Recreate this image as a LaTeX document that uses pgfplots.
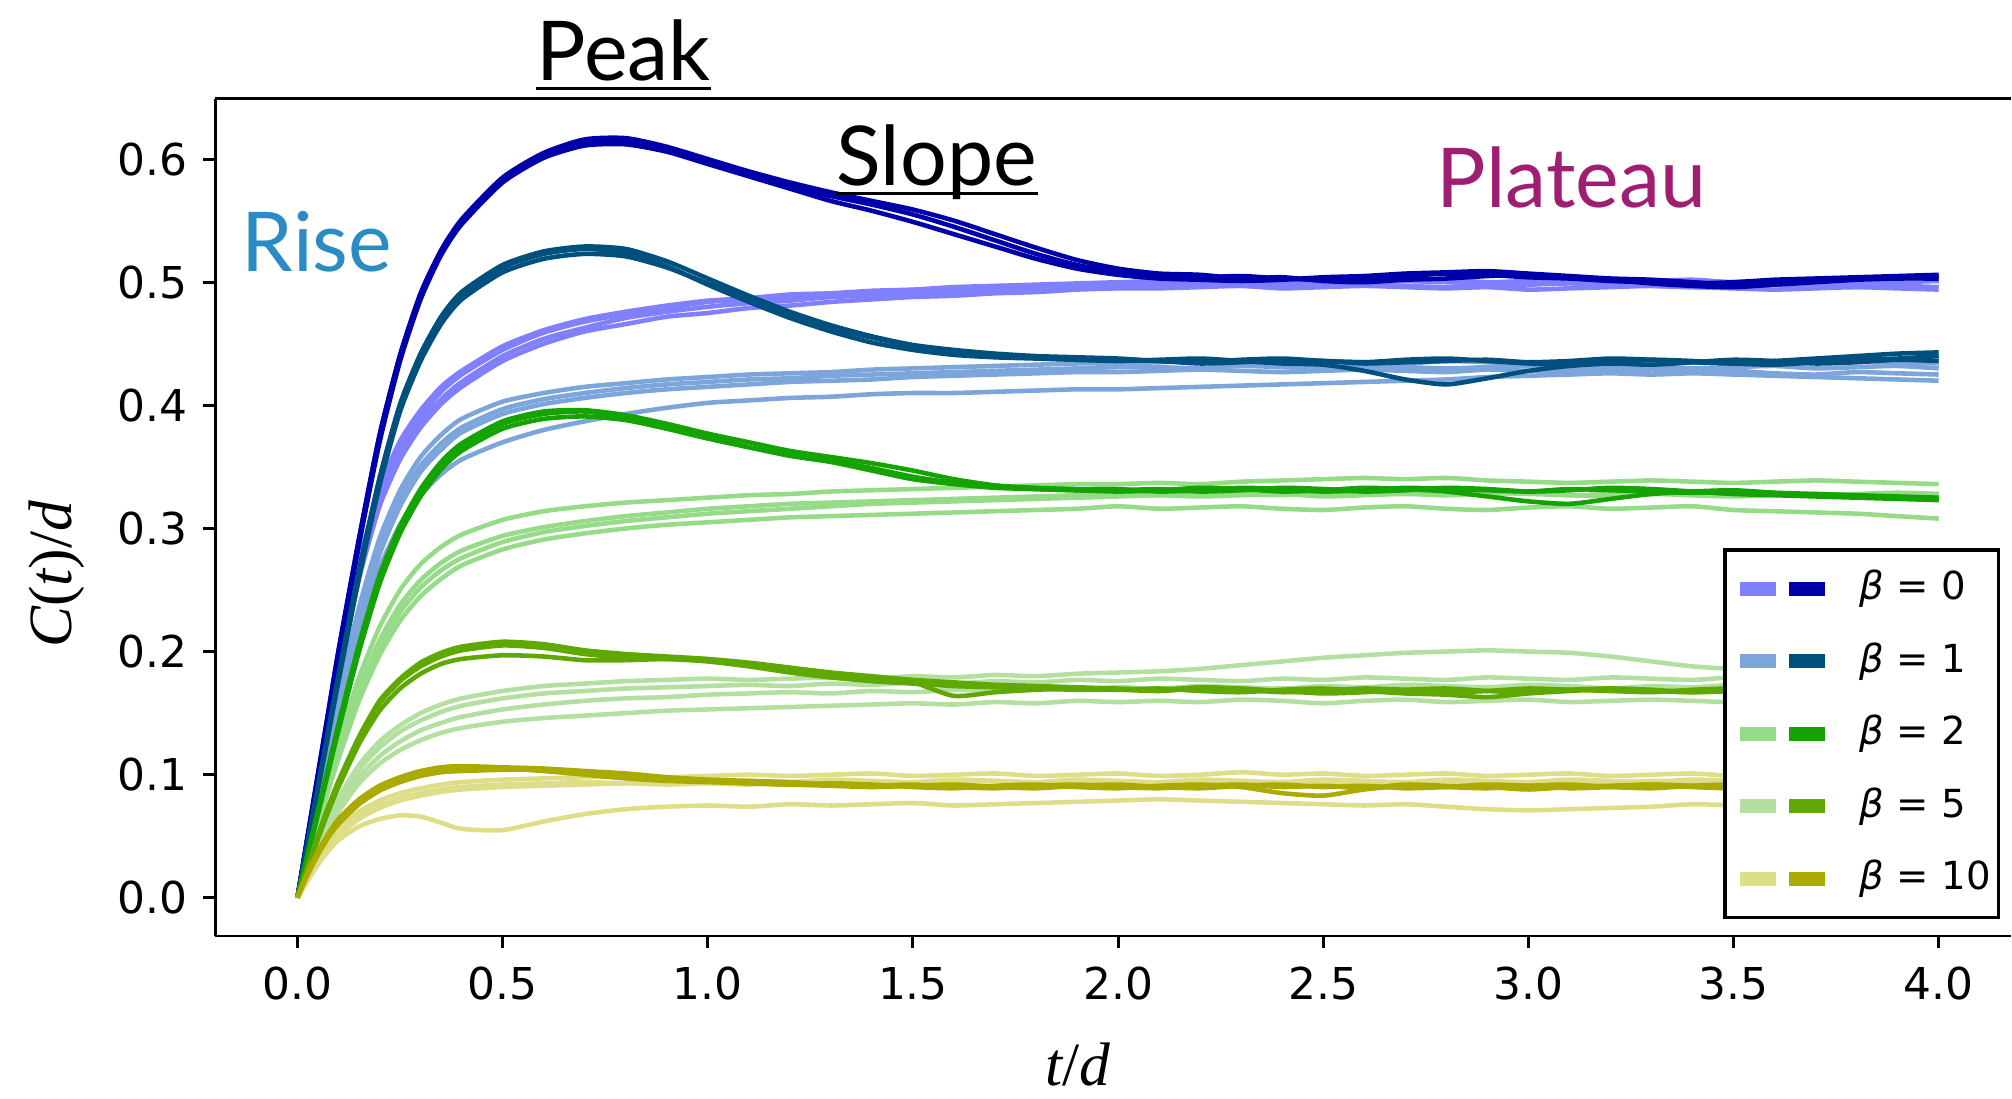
\documentclass[border=0pt]{standalone}
\usepackage{fontspec}
\setmainfont{DejaVu Sans}
\newfontfamily\annot{Lato}
\newfontfamily\tnr{Liberation Serif}
\usepackage{pgfplots}
\usepackage{pgfplotstable}
\pgfplotsset{compat=1.18}

\definecolor{Lzero}{HTML}{8080FF}
\definecolor{Dzero}{HTML}{0000AA}
\definecolor{Lone}{HTML}{7CA5DB}
\definecolor{Done}{HTML}{00507F}
\definecolor{Ltwo}{HTML}{95DB88}
\definecolor{Dtwo}{HTML}{14A300}
\definecolor{Lfive}{HTML}{B3E0A0}
\definecolor{Dfive}{HTML}{5FA800}
\definecolor{Lten}{HTML}{DEDE88}
\definecolor{Dten}{HTML}{AAAA00}
\definecolor{risec}{HTML}{2B8CC4}
\definecolor{platc}{HTML}{A01E72}

% columns: t, dark runs d1-d3, light runs l1-l4
\pgfplotstableread{
t d1 d2 d3 l1 l2 l3 l4
0 0 0 0 0 0 0 0
0.025 .050 .049 .051 .048 .050 .047 .049
0.05 .100 .098 .101 .095 .099 .094 .097
0.075 .150 .147 .151 .142 .147 .140 .145
0.1 .200 .196 .201 .186 .192 .183 .189
0.15 .291 .287 .292 .263 .272 .259 .268
0.2 .375 .370 .376 .322 .333 .318 .328
0.25 .440 .436 .441 .360 .371 .356 .366
0.3 .490 .486 .491 .386 .396 .382 .391
0.35 .525 .522 .526 .405 .415 .401 .411
0.4 .550 .547 .551 .419 .428 .415 .425
0.5 .584 .581 .585 .440 .448 .436 .445
0.6 .604 .601 .605 .454 .461 .450 .459
0.7 .614 .611 .616 .463 .470 .460 .468
0.8 .615 .612 .617 .471 .476 .466 .474
0.9 .608 .606 .610 .476 .481 .472 .479
1.0 .597 .596 .600 .480 .485 .475 .484
1.1 .587 .586 .590 .483 .487 .479 .486
1.2 .578 .576 .581 .485 .490 .481 .488
1.3 .570 .566 .573 .488 .491 .484 .490
1.4 .563 .558 .566 .489 .493 .486 .492
1.5 .555 .549 .559 .491 .494 .488 .493
1.6 .545 .539 .550 .492 .496 .489 .495
1.7 .534 .529 .539 .494 .497 .491 .496
1.8 .523 .519 .528 .495 .498 .492 .497
1.9 .514 .511 .518 .496 .499 .494 .498
2.0 .508 .506 .511 .497 .500 .495 .499
2.1 .505 .503 .507 .497 .501 .495 .500
2.2 .504 .502 .506 .498 .501 .496 .499
2.3 .505 .501 .503 .497 .500 .497 .500
2.4 .503 .502 .504 .498 .502 .495 .501
2.5 .502 .504 .501 .499 .501 .496 .500
2.6 .503 .505 .500 .498 .500 .497 .502
2.7 .505 .507 .502 .497 .501 .496 .501
2.8 .507 .508 .503 .496 .502 .495 .500
2.9 .506 .509 .505 .497 .500 .496 .499
3.0 .504 .507 .506 .498 .501 .494 .500
3.1 .503 .505 .504 .499 .502 .495 .501
3.2 .501 .503 .502 .498 .500 .496 .502
3.3 .500 .502 .499 .497 .501 .497 .500
3.4 .499 .500 .497 .496 .502 .496 .499
3.5 .500 .498 .496 .497 .500 .495 .500
3.6 .502 .499 .498 .498 .501 .494 .501
3.7 .503 .501 .500 .497 .502 .495 .500
3.8 .504 .503 .502 .496 .501 .496 .499
3.9 .505 .504 .503 .497 .500 .495 .500
4.0 .506 .505 .503 .496 .502 .494 .501
}\bzero

\pgfplotstableread{
t d1 d2 d3 l1 l2 l3 l4
0 0 0 0 0 0 0 0
0.025 .045 .044 .046 .041 .042 .040 .039
0.05 .090 .088 .091 .082 .084 .080 .078
0.075 .135 .132 .136 .122 .125 .119 .116
0.1 .180 .176 .181 .161 .165 .157 .153
0.15 .265 .260 .266 .230 .236 .225 .218
0.2 .340 .335 .341 .285 .292 .279 .268
0.25 .400 .395 .401 .324 .331 .318 .303
0.3 .440 .436 .442 .351 .358 .346 .327
0.35 .470 .466 .472 .369 .376 .364 .344
0.4 .490 .486 .492 .382 .389 .378 .356
0.5 .512 .508 .514 .397 .403 .393 .370
0.6 .523 .519 .525 .405 .410 .401 .380
0.7 .527 .523 .529 .410 .415 .406 .387
0.8 .524 .521 .527 .414 .418 .410 .393
0.9 .513 .512 .517 .417 .421 .413 .398
1.0 .498 .499 .503 .419 .423 .415 .402
1.1 .484 .486 .489 .421 .425 .417 .404
1.2 .471 .474 .476 .422 .426 .419 .406
1.3 .460 .463 .465 .424 .427 .420 .407
1.4 .451 .455 .456 .425 .429 .421 .409
1.5 .445 .448 .449 .426 .430 .423 .410
1.6 .441 .444 .445 .427 .431 .424 .410
1.7 .439 .441 .442 .428 .432 .425 .411
1.8 .438 .439 .440 .429 .433 .426 .412
1.9 .437 .437 .439 .430 .434 .427 .413
2.0 .437 .436 .438 .431 .434 .427 .413
2.1 .436 .437 .436 .431 .435 .428 .414
2.2 .434 .438 .435 .430 .436 .429 .415
2.3 .435 .436 .437 .432 .434 .428 .416
2.4 .437 .434 .438 .431 .435 .427 .417
2.5 .436 .433 .436 .430 .436 .428 .418
2.6 .435 .428 .434 .432 .435 .429 .419
2.7 .437 .421 .435 .431 .434 .428 .420
2.8 .438 .417 .436 .430 .436 .427 .421
2.9 .436 .422 .437 .431 .435 .429 .423
3.0 .434 .428 .435 .432 .434 .428 .424
3.1 .433 .432 .436 .430 .435 .427 .425
3.2 .435 .434 .438 .431 .436 .428 .426
3.3 .437 .433 .437 .432 .434 .429 .425
3.4 .436 .435 .435 .430 .435 .427 .426
3.5 .434 .437 .434 .431 .436 .428 .425
3.6 .433 .436 .436 .432 .434 .426 .424
3.7 .435 .434 .438 .430 .435 .425 .423
3.8 .437 .435 .440 .431 .436 .427 .422
3.9 .438 .437 .442 .432 .435 .426 .421
4.0 .440 .436 .443 .430 .434 .425 .420
}\bone

\pgfplotstableread{
t d1 d2 d3 l1 l2 l3 l4
0 0 0 0 0 0 0 0
0.025 .035 .034 .036 .032 .034 .030 .031
0.05 .070 .068 .071 .063 .067 .059 .061
0.075 .105 .102 .106 .093 .099 .087 .090
0.1 .140 .136 .141 .121 .128 .113 .117
0.15 .205 .200 .206 .170 .179 .160 .165
0.2 .260 .255 .262 .209 .220 .197 .203
0.25 .300 .296 .302 .238 .250 .225 .232
0.3 .330 .326 .332 .258 .271 .245 .252
0.35 .352 .348 .354 .272 .285 .259 .266
0.4 .367 .363 .369 .282 .295 .270 .276
0.5 .385 .381 .387 .294 .307 .283 .289
0.6 .393 .389 .395 .301 .314 .291 .297
0.7 .395 .391 .396 .306 .318 .296 .302
0.8 .390 .388 .392 .310 .321 .300 .306
0.9 .382 .381 .385 .313 .323 .303 .309
1.0 .374 .373 .377 .316 .325 .305 .312
1.1 .366 .366 .370 .318 .327 .307 .314
1.2 .359 .360 .363 .320 .328 .309 .316
1.3 .354 .355 .358 .321 .330 .310 .318
1.4 .347 .349 .353 .322 .331 .311 .320
1.5 .340 .342 .347 .323 .332 .312 .321
1.6 .336 .337 .340 .324 .333 .313 .322
1.7 .333 .334 .335 .325 .334 .314 .323
1.8 .332 .332 .333 .326 .335 .315 .324
1.9 .331 .331 .332 .327 .336 .316 .325
2.0 .331 .330 .332 .328 .336 .318 .326
2.1 .332 .331 .330 .327 .337 .316 .327
2.2 .330 .333 .331 .329 .336 .317 .326
2.3 .331 .332 .333 .328 .338 .318 .327
2.4 .333 .330 .332 .327 .339 .316 .328
2.5 .332 .331 .330 .329 .340 .315 .326
2.6 .330 .333 .331 .328 .341 .317 .327
2.7 .331 .332 .333 .329 .340 .318 .328
2.8 .333 .330 .332 .327 .341 .316 .327
2.9 .332 .326 .331 .328 .339 .315 .329
3.0 .330 .322 .330 .329 .338 .317 .328
3.1 .331 .320 .332 .327 .337 .318 .327
3.2 .333 .324 .331 .328 .338 .316 .326
3.3 .332 .328 .330 .329 .339 .317 .328
3.4 .330 .330 .329 .327 .338 .318 .327
3.5 .328 .331 .330 .328 .337 .315 .326
3.6 .327 .329 .328 .329 .338 .314 .327
3.7 .326 .328 .327 .327 .339 .313 .328
3.8 .325 .327 .326 .328 .338 .312 .327
3.9 .324 .326 .325 .329 .337 .310 .326
4.0 .323 .325 .324 .328 .336 .308 .325
}\btwo

\pgfplotstableread{
t d1 d2 d3 l1 l2 l3 l4
0 0 0 0 0 0 0 0
0.025 .025 .024 .026 .021 .020 .019 .022
0.05 .050 .048 .051 .042 .040 .038 .044
0.075 .073 .070 .074 .061 .058 .055 .064
0.1 .094 .090 .095 .078 .074 .070 .081
0.15 .130 .125 .131 .104 .098 .093 .108
0.2 .158 .152 .160 .122 .115 .109 .127
0.25 .176 .170 .178 .135 .127 .120 .140
0.3 .188 .182 .191 .144 .136 .128 .150
0.35 .196 .190 .199 .151 .142 .134 .157
0.4 .201 .194 .204 .156 .147 .138 .162
0.5 .205 .197 .208 .162 .153 .143 .168
0.6 .203 .196 .206 .166 .157 .146 .172
0.7 .198 .193 .201 .168 .160 .148 .174
0.8 .195 .193 .198 .170 .162 .150 .176
0.9 .194 .194 .196 .171 .163 .152 .177
1.0 .192 .193 .194 .172 .165 .153 .178
1.1 .188 .190 .191 .173 .166 .154 .177
1.2 .183 .186 .187 .172 .167 .155 .178
1.3 .179 .182 .183 .174 .166 .156 .179
1.4 .176 .178 .180 .173 .168 .157 .178
1.5 .174 .175 .177 .175 .167 .158 .180
1.6 .172 .164 .175 .174 .169 .157 .179
1.7 .171 .167 .173 .176 .168 .159 .181
1.8 .170 .169 .172 .175 .170 .158 .180
1.9 .169 .170 .171 .177 .169 .160 .182
2.0 .169 .169 .170 .176 .171 .159 .183
2.1 .168 .170 .169 .178 .170 .160 .184
2.2 .170 .168 .171 .177 .172 .159 .186
2.3 .169 .167 .170 .176 .171 .161 .189
2.4 .167 .169 .168 .178 .170 .160 .192
2.5 .168 .170 .166 .177 .172 .158 .195
2.6 .170 .168 .167 .179 .171 .160 .197
2.7 .169 .166 .169 .178 .173 .161 .199
2.8 .167 .165 .170 .177 .172 .159 .200
2.9 .168 .163 .168 .179 .171 .160 .201
3.0 .170 .166 .167 .178 .173 .161 .200
3.1 .169 .168 .169 .177 .172 .159 .199
3.2 .168 .170 .170 .179 .170 .160 .196
3.3 .167 .169 .168 .178 .172 .161 .192
3.4 .169 .167 .167 .177 .171 .160 .188
3.5 .170 .168 .169 .179 .173 .159 .186
3.6 .168 .170 .170 .178 .172 .161 .187
3.7 .167 .169 .168 .177 .170 .160 .186
3.8 .169 .168 .167 .179 .171 .159 .188
3.9 .170 .167 .169 .178 .173 .160 .189
4.0 .168 .169 .170 .177 .172 .161 .190
}\bfive

\pgfplotstableread{
t d1 d2 d3 l1 l2 l3 l4
0 0 0 0 0 0 0 0
0.025 .020 .019 .021 .016 .015 .017 .014
0.05 .037 .035 .038 .031 .029 .033 .027
0.075 .051 .049 .052 .043 .041 .046 .038
0.1 .062 .060 .064 .053 .051 .056 .047
0.15 .078 .076 .080 .066 .064 .070 .058
0.2 .089 .087 .091 .075 .073 .079 .064
0.25 .096 .094 .098 .081 .079 .085 .067
0.3 .101 .099 .103 .085 .083 .089 .066
0.35 .104 .102 .106 .088 .086 .092 .061
0.4 .105 .103 .107 .090 .088 .094 .056
0.5 .105 .104 .106 .092 .090 .096 .055
0.6 .103 .104 .105 .093 .091 .097 .062
0.7 .100 .102 .103 .094 .092 .098 .068
0.8 .097 .099 .101 .093 .093 .099 .072
0.9 .095 .097 .098 .095 .092 .098 .074
1.0 .094 .095 .096 .094 .093 .099 .075
1.1 .093 .093 .095 .095 .092 .100 .074
1.2 .092 .092 .094 .094 .094 .099 .076
1.3 .091 .093 .092 .096 .093 .100 .075
1.4 .090 .092 .091 .095 .092 .101 .076
1.5 .091 .090 .092 .094 .094 .099 .077
1.6 .092 .089 .090 .096 .093 .100 .075
1.7 .090 .091 .089 .095 .095 .101 .076
1.8 .089 .092 .091 .094 .093 .099 .077
1.9 .091 .090 .092 .096 .092 .100 .078
2.0 .092 .089 .090 .095 .094 .101 .079
2.1 .090 .091 .089 .094 .093 .099 .080
2.2 .089 .092 .091 .096 .095 .100 .079
2.3 .091 .090 .092 .095 .093 .102 .078
2.4 .092 .085 .090 .094 .094 .100 .077
2.5 .090 .083 .091 .096 .092 .101 .076
2.6 .091 .088 .089 .095 .094 .099 .075
2.7 .089 .091 .092 .094 .093 .100 .076
2.8 .090 .090 .091 .096 .095 .101 .074
2.9 .092 .089 .090 .095 .093 .099 .072
3.0 .091 .091 .088 .094 .092 .100 .071
3.1 .089 .092 .090 .096 .094 .101 .072
3.2 .090 .090 .091 .095 .093 .099 .073
3.3 .092 .089 .092 .094 .095 .100 .074
3.4 .091 .091 .090 .096 .094 .101 .076
3.5 .090 .092 .089 .095 .092 .099 .075
3.6 .089 .090 .091 .094 .093 .100 .073
3.7 .091 .089 .092 .096 .095 .101 .070
3.8 .092 .091 .090 .095 .094 .099 .067
3.9 .090 .092 .091 .094 .093 .100 .064
4.0 .091 .090 .092 .096 .092 .101 .061
}\bten

\newcommand{\twoswatch}[2]{\addlegendimage{legend image code/.code={
  \draw[line width=1.4mm,#1] (0mm,0mm) -- (3.6mm,0mm);
  \draw[line width=1.4mm,#2] (4.9mm,0mm) -- (8.5mm,0mm);}}}

\begin{document}
\begin{tikzpicture}
\begin{axis}[
  at={(0,0)}, anchor=south west,
  scale only axis, width=17.964cm, height=8.379cm,
  xmin=-0.2, xmax=4.175, ymin=-0.031, ymax=0.649,
  axis x line*=box, axis y line*=left,
  axis line style={line width=0.85pt, -},
  xtick pos=bottom, ytick pos=left,
  tick align=outside, major tick length=1.2mm,
  tick style={line width=0.85pt, black},
  xtick={0,0.5,...,4}, ytick={0,0.1,...,0.6},
  /pgf/number format/assume math mode=true,
  ticklabel style={font=\fontsize{12.5}{15}\selectfont,
    /pgf/number format/fixed, /pgf/number format/fixed zerofill,
    /pgf/number format/precision=1},
  xticklabel style={yshift=-0.7mm},
  yticklabel style={xshift=-0.4mm},
  xlabel={{\tnr\itshape t\upshape/\itshape d}},
  ylabel={{\tnr\itshape C\upshape(\itshape t\upshape)/\itshape d}},
  every axis x label/.style={at={(rel axis cs:0.4806,0)}, yshift=-12.9mm,
    anchor=center, inner sep=0pt, font=\fontsize{17.5}{20}\selectfont},
  every axis y label/.style={at={(rel axis cs:0,0.4317)}, xshift=-15.9mm,
    anchor=center, inner sep=0pt, rotate=90, font=\fontsize{17.5}{20}\selectfont},
  clip=false,
  every axis plot/.append style={line width=1.3pt, line join=round, no marks, smooth, tension=0.4},
  legend style={at={(0.9944,0.0199)}, anchor=south east,
    draw=black, line width=1pt, fill=white,
    inner xsep=0.8mm, inner ysep=1.8mm,
    row sep=3.05mm, column sep=2.8mm,
    font=\fontsize{11}{13}\selectfont,
    nodes={inner sep=0pt, text height=3.2mm, text depth=1mm}},
  legend cell align=left,
]
% beta = 0
\addplot[forget plot, Lzero] table[x=t, y=l1]{\bzero};
\addplot[forget plot, Lzero] table[x=t, y=l2]{\bzero};
\addplot[forget plot, Lzero] table[x=t, y=l3]{\bzero};
\addplot[forget plot, Lzero] table[x=t, y=l4]{\bzero};
\addplot[forget plot, Dzero] table[x=t, y=d1]{\bzero};
\addplot[forget plot, Dzero] table[x=t, y=d2]{\bzero};
\addplot[forget plot, Dzero] table[x=t, y=d3]{\bzero};
% beta = 1
\addplot[forget plot, Lone] table[x=t, y=l1]{\bone};
\addplot[forget plot, Lone] table[x=t, y=l2]{\bone};
\addplot[forget plot, Lone] table[x=t, y=l3]{\bone};
\addplot[forget plot, Lone] table[x=t, y=l4]{\bone};
\addplot[forget plot, Done] table[x=t, y=d1]{\bone};
\addplot[forget plot, Done] table[x=t, y=d2]{\bone};
\addplot[forget plot, Done] table[x=t, y=d3]{\bone};
% beta = 2
\addplot[forget plot, Ltwo] table[x=t, y=l1]{\btwo};
\addplot[forget plot, Ltwo] table[x=t, y=l2]{\btwo};
\addplot[forget plot, Ltwo] table[x=t, y=l3]{\btwo};
\addplot[forget plot, Ltwo] table[x=t, y=l4]{\btwo};
\addplot[forget plot, Dtwo] table[x=t, y=d1]{\btwo};
\addplot[forget plot, Dtwo] table[x=t, y=d2]{\btwo};
\addplot[forget plot, Dtwo] table[x=t, y=d3]{\btwo};
% beta = 5
\addplot[forget plot, Lfive] table[x=t, y=l1]{\bfive};
\addplot[forget plot, Lfive] table[x=t, y=l2]{\bfive};
\addplot[forget plot, Lfive] table[x=t, y=l3]{\bfive};
\addplot[forget plot, Lfive] table[x=t, y=l4]{\bfive};
\addplot[forget plot, Dfive] table[x=t, y=d1]{\bfive};
\addplot[forget plot, Dfive] table[x=t, y=d2]{\bfive};
\addplot[forget plot, Dfive] table[x=t, y=d3]{\bfive};
% beta = 10
\addplot[forget plot, Lten] table[x=t, y=l1]{\bten};
\addplot[forget plot, Lten] table[x=t, y=l2]{\bten};
\addplot[forget plot, Lten] table[x=t, y=l3]{\bten};
\addplot[forget plot, Lten] table[x=t, y=l4]{\bten};
\addplot[forget plot, Dten] table[x=t, y=d1]{\bten};
\addplot[forget plot, Dten] table[x=t, y=d2]{\bten};
\addplot[forget plot, Dten] table[x=t, y=d3]{\bten};

\twoswatch{Lzero}{Dzero}\addlegendentry{{\itshape β} = 0}
\twoswatch{Lone}{Done}\addlegendentry{{\itshape β} = 1}
\twoswatch{Ltwo}{Dtwo}\addlegendentry{{\itshape β} = 2}
\twoswatch{Lfive}{Dfive}\addlegendentry{{\itshape β} = 5}
\twoswatch{Lten}{Dten}\addlegendentry{{\itshape β} = 10\hspace{0.8mm}}

% phase annotations
\node[anchor=base west, inner sep=0, font=\annot\fontsize{23.5}{27}\selectfont] (pk) at (axis cs:0.581,0.664) {Peak};
\draw[line width=0.9pt] ([yshift=-0.8mm]pk.base west) -- ([yshift=-0.8mm]pk.base east);
\node[anchor=base west, inner sep=0, font=\annot\fontsize{23.5}{27}\selectfont] (sl) at (axis cs:1.3125,0.5785) {Slope};
\draw[line width=0.9pt] ([yshift=-0.8mm]sl.base west) -- ([yshift=-0.8mm]sl.base east);
\node[anchor=base west, inner sep=0, font=\annot\fontsize{23.5}{27}\selectfont, text=platc] at (axis cs:2.775,0.561) {Plateau};
\node[anchor=base west, inner sep=0, font=\annot\fontsize{23.5}{27}\selectfont, text=risec] at (axis cs:-0.1375,0.509) {Rise};
\end{axis}
\path (-2.156cm,-1.623cm) rectangle (17.964cm,9.367cm);
\end{tikzpicture}
\end{document}
